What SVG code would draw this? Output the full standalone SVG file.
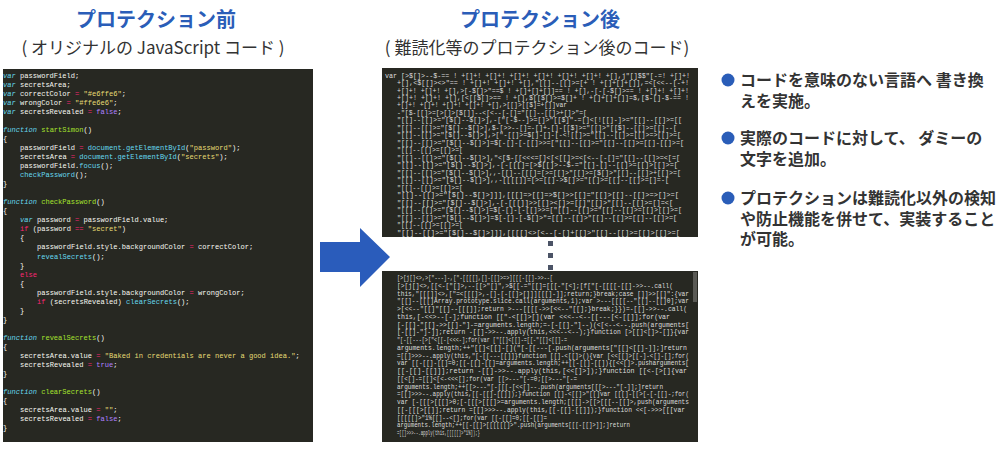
<svg xmlns="http://www.w3.org/2000/svg" width="1000" height="450" viewBox="0 0 1000 450">
<style>
.title{font-family:"Noto Sans CJK JP","Noto Sans",sans-serif;font-weight:bold;font-size:20px;fill:#2a5db8;text-anchor:middle}
.sub{font-family:"Noto Sans CJK JP","Noto Sans",sans-serif;font-size:17px;fill:#333;text-anchor:middle}
.bl{font-family:"Noto Sans CJK JP","Noto Sans",sans-serif;font-weight:bold;font-size:16px;fill:#333}
.panel{fill:#272822}
.code{font-family:"Liberation Mono","DejaVu Sans Mono",monospace;font-size:7.07px;fill:#f8f8f2}
.obf{font-family:"Liberation Mono","DejaVu Sans Mono",monospace;font-size:6.8px;fill:#dcdcdc}
.k{fill:#66d9ef;font-style:italic}
.o{fill:#f92672}
.s{fill:#e6db74}
.f{fill:#a6e22e}
.p{fill:#ae81ff}
.b{fill:#66d9ef}
.dot{fill:#4b5366}
</style>

<g id="title-before">
<text class="title" x="156" y="27">プロテクション前</text>
<text class="sub" x="153" y="54">( オリジナルの JavaScript コード )</text>
</g>
<g id="title-after">
<text class="title" x="540" y="27">プロテクション後</text>
<text class="sub" x="537" y="54">( 難読化等のプロテクション後のコード)</text>
</g>

<g id="code-before">
<rect class="panel" x="3" y="69" width="310" height="373"/>
<text class="code" x="3" y="77.5"><tspan class="k">var</tspan> passwordField;</text>
<text class="code" x="3" y="86.55"><tspan class="k">var</tspan> secretsArea;</text>
<text class="code" x="3" y="95.6"><tspan class="k">var</tspan> correctColor <tspan class="o">=</tspan> <tspan class="s">"#e6ffe6"</tspan>;</text>
<text class="code" x="3" y="104.65"><tspan class="k">var</tspan> wrongColor <tspan class="o">=</tspan> <tspan class="s">"#ffe6e6"</tspan>;</text>
<text class="code" x="3" y="113.7"><tspan class="k">var</tspan> secretsRevealed <tspan class="o">=</tspan> <tspan class="p">false</tspan>;</text>
<text class="code" x="3" y="131.8"><tspan class="k">function</tspan> <tspan class="f">startSimon</tspan>()</text>
<text class="code" x="3" y="140.85">{</text>
<text class="code" x="20" y="149.9">passwordField <tspan class="o">=</tspan> <tspan class="b">document.getElementById</tspan>(<tspan class="s">"password"</tspan>);</text>
<text class="code" x="20" y="158.95">secretsArea <tspan class="o">=</tspan> <tspan class="b">document.getElementById</tspan>(<tspan class="s">"secrets"</tspan>);</text>
<text class="code" x="20" y="168">passwordField.<tspan class="b">focus</tspan>();</text>
<text class="code" x="20" y="177.05"><tspan class="b">checkPassword</tspan>();</text>
<text class="code" x="3" y="186.1">}</text>
<text class="code" x="3" y="204.2"><tspan class="k">function</tspan> <tspan class="f">checkPassword</tspan>()</text>
<text class="code" x="3" y="213.25">{</text>
<text class="code" x="20" y="222.3"><tspan class="k">var</tspan> password <tspan class="o">=</tspan> passwordField.value;</text>
<text class="code" x="20" y="231.35"><tspan class="o">if</tspan> (password <tspan class="o">==</tspan> <tspan class="s">"secret"</tspan>)</text>
<text class="code" x="20" y="240.4">{</text>
<text class="code" x="37" y="249.45">passwordField.style.backgroundColor <tspan class="o">=</tspan> correctColor;</text>
<text class="code" x="37" y="258.5"><tspan class="b">revealSecrets</tspan>();</text>
<text class="code" x="20" y="267.55">}</text>
<text class="code" x="20" y="276.6"><tspan class="o">else</tspan></text>
<text class="code" x="20" y="285.65">{</text>
<text class="code" x="37" y="294.7">passwordField.style.backgroundColor <tspan class="o">=</tspan> wrongColor;</text>
<text class="code" x="37" y="303.75"><tspan class="o">if</tspan> (secretsRevealed) <tspan class="b">clearSecrets</tspan>();</text>
<text class="code" x="20" y="312.8">}</text>
<text class="code" x="3" y="321.85">}</text>
<text class="code" x="3" y="339.95"><tspan class="k">function</tspan> <tspan class="f">revealSecrets</tspan>()</text>
<text class="code" x="3" y="349">{</text>
<text class="code" x="20" y="358.05">secretsArea.value <tspan class="o">=</tspan> <tspan class="s">"Baked in credentials are never a good idea."</tspan>;</text>
<text class="code" x="20" y="367.1">secretsRevealed <tspan class="o">=</tspan> <tspan class="p">true</tspan>;</text>
<text class="code" x="3" y="376.15">}</text>
<text class="code" x="3" y="394.25"><tspan class="k">function</tspan> <tspan class="f">clearSecrets</tspan>()</text>
<text class="code" x="3" y="403.3">{</text>
<text class="code" x="20" y="412.35">secretsArea.value <tspan class="o">=</tspan> <tspan class="s">""</tspan>;</text>
<text class="code" x="20" y="421.4">secretsRevealed <tspan class="o">=</tspan> <tspan class="p">false</tspan>;</text>
<text class="code" x="3" y="430.45">}</text>
</g>

<g id="connectors">
<polygon points="320,242 360,242 360,228 390,257 360,287 360,272 320,272" fill="#2a5cbb"/>
</g>

<g id="code-after-top">
<rect class="panel" x="382" y="68" width="316" height="169"/>
<text class="obf" x="385" y="77.5" textLength="305" lengthAdjust="spacingAndGlyphs">var [&gt;$[]&gt;--$-== ! +[]+! +[]+! +[]+! +[]+! +[]+! +[]+! +[],j"[]$$"[-=! +[]+!</text>
<text class="obf" x="397" y="85" textLength="292" lengthAdjust="spacingAndGlyphs">+[],&lt;$[[]&gt;&lt;&gt;"== ! +[]+! +[]+! +[],"[[]--[[]&gt;=[+ ! +[]+[]+[]],=&lt;[&lt;&lt;--[-+!</text>
<text class="obf" x="397" y="92.5" textLength="292" lengthAdjust="spacingAndGlyphs">+[]+! +[]+! +[],&gt;[-$[]&gt;"==$ ! +[]+[]+[]]== ! +[],-[-[-$[]&gt;== ! +[]+! +[]+!</text>
<text class="obf" x="397" y="99.9" textLength="292" lengthAdjust="spacingAndGlyphs">+[]+! +[]+! +[],[&lt;[[$[]&gt;== ! +[],$[[$[]&gt;=$[]+ ! +[]+[]+[]]=$,[$-[]-$-== !</text>
<text class="obf" x="397" y="107.4" textLength="170" lengthAdjust="spacingAndGlyphs">+[]+! +[]+! +[]+! +[]+! +[],&gt;[[]&gt;[[$]=+[]]var</text>
<text class="obf" x="397" y="114.9" textLength="190" lengthAdjust="spacingAndGlyphs">-"[$-[[]&gt;=[&gt;[]&gt;[$[]]--&lt;[&lt;--[-[]="[[]--[[]&gt;+[]&gt;"=[</text>
<text class="obf" x="397" y="122.4" textLength="285" lengthAdjust="spacingAndGlyphs">"[[]--[[]&gt;="[$[]--$[]&gt;],-["[-$--]&gt;=[]&gt;"[[$]"-=[]&lt;[![[]-]&gt;="[[]--[[]&gt;=[[</text>
<text class="obf" x="397" y="129.9" textLength="280" lengthAdjust="spacingAndGlyphs">"[[]--[[]&gt;="[$[]--$[]&gt;],$-[&gt;&gt;--[]=-[]+-[]-[[$]&gt;="[[]&gt;"[[$]--[[]&gt;=[[]--[</text>
<text class="obf" x="397" y="137.3" textLength="284" lengthAdjust="spacingAndGlyphs">"[[]--[[]&gt;="[$[]--$[]&gt;],&gt;["-[[]&gt;=$[]-[]-[-&lt;![[]&gt;="[[]--[[]&gt;=[[]&gt;=&gt;[[]&gt;=[</text>
<text class="obf" x="397" y="144.8" textLength="287" lengthAdjust="spacingAndGlyphs">"[[]--[[]&gt;="[$[]--$[]&gt;]=$[-[]-[-[[]&gt;&gt;=["[[]--[[]&gt;="[[]--[[]&gt;=[[]-[[]&gt;=[</text>
<text class="obf" x="397" y="152.3" textLength="66" lengthAdjust="spacingAndGlyphs">"[[]--[[]&gt;=[[]&gt;=[</text>
<text class="obf" x="397" y="159.8" textLength="283" lengthAdjust="spacingAndGlyphs">"[[]--[[]&gt;="[$[]--$[]&gt;],"&lt;[$-[[&lt;&lt;&lt;=[]&lt;[&lt;[[]&gt;=&lt;[&lt;--[-[]="[[]--[[]&gt;=&lt;[=[</text>
<text class="obf" x="397" y="167.2" textLength="281" lengthAdjust="spacingAndGlyphs">"[[]--[[]&gt;="[$[]--$[]&gt;],-[-[[[]=[&gt;$[[]&gt;--$-="[[]-[]--[[]&gt;=[[]&gt;[[]&gt;=[</text>
<text class="obf" x="397" y="174.7" textLength="284" lengthAdjust="spacingAndGlyphs">"[[]--[[]&gt;="[$[]--$[]&gt;],,-[[]--[[[]=[&gt;=[[]&gt;"[[]&gt;=[$[]&gt;"[[]--[[]&gt;+[[]&gt;=[</text>
<text class="obf" x="397" y="182.2" textLength="272" lengthAdjust="spacingAndGlyphs">"[[]--[[]&gt;="[$[]--$[]&gt;],,-[[[[]]=[&gt;=[[]-&gt;$[]&gt;="[[]&gt;=[[]--[[]&gt;=[]=-[</text>
<text class="obf" x="397" y="189.7" textLength="66" lengthAdjust="spacingAndGlyphs">"[[]--[[]&gt;=[[]&gt;=[</text>
<text class="obf" x="397" y="197.1" textLength="282" lengthAdjust="spacingAndGlyphs">"[[]--[[]&gt;="[$[]--$[]&gt;]]],[[[]=&gt;[[]=&gt;$[]&gt;&gt;[[]="[[]&gt;[[]--[[]&gt;=&gt;[]&gt;=[</text>
<text class="obf" x="397" y="204.6" textLength="276" lengthAdjust="spacingAndGlyphs">"[[]--[[]&gt;="[$[]--$[]&gt;],-[-[[[]]&gt;&gt;[[]&gt;&lt;[]&gt;=[[]"[[]&gt;"[[]--[[]&gt;=[]=&lt;[</text>
<text class="obf" x="397" y="212.1" textLength="285" lengthAdjust="spacingAndGlyphs">"[[]--[[]&gt;="[$[]--$[]&gt;]=$[-[]-[-[[]&gt;&gt;=["[[]--[[]&gt;="[[]--[[]&gt;=[[]&gt;[[]&gt;=[</text>
<text class="obf" x="397" y="219.6" textLength="280" lengthAdjust="spacingAndGlyphs">"[[]--[[]&gt;="[$[]--$[]&gt;]=$[-[]-[-$[]&gt;"=[[]--[[]&gt;"[[]--[[]&gt;=[[]--[[]&gt;=[</text>
<text class="obf" x="397" y="227" textLength="66" lengthAdjust="spacingAndGlyphs">"[[]--[[]&gt;=[[]&gt;=[</text>
<text class="obf" x="397" y="234.5" textLength="283" lengthAdjust="spacingAndGlyphs">"[[]--[[]&gt;="[$[]--$[]&gt;]]],[[[[]&lt;&gt;[&lt;--[-[]+[[]&gt;"[[]--[[]&gt;=[[]&gt;[[]&gt;=[</text>
</g>

<g id="ellipsis">
<rect class="dot" x="548" y="241" width="5" height="5"/>
<rect class="dot" x="548" y="253" width="5" height="5"/>
<rect class="dot" x="548" y="265" width="5" height="5"/>
</g>

<g id="code-after-bottom">
<rect class="panel" x="382" y="271" width="316" height="171"/>
<rect x="693" y="272" width="4" height="30" fill="#5a5a55"/>
<text class="obf" x="397" y="280" textLength="156" lengthAdjust="spacingAndGlyphs">[&gt;[j[]&lt;&gt;,&gt;["---]-,["-[[[[],[]-[[]&gt;=&gt;][[[-[[]-&gt;&gt;--[</text>
<text class="obf" x="397" y="287.75" textLength="276" lengthAdjust="spacingAndGlyphs">[&gt;[j[]&lt;&gt;,[[&lt;-["[]&gt;,--[[&gt;"[]",&gt;$[[-="[[]=[[[-"[&lt;];[f["[-[[[[-[[]-&gt;&gt;--.call(</text>
<text class="obf" x="397" y="295.5" textLength="292" lengthAdjust="spacingAndGlyphs">this,"[[[]]&lt;&gt;,["=&lt;[[[]&gt;,-[]-[-[[]&gt;[]]][[[]-]];return;}break;case []]&gt;&gt;[[]":{var</text>
<text class="obf" x="397" y="303.25" textLength="292" lengthAdjust="spacingAndGlyphs">"[[]--[[[]Array.prototype.slice.call(arguments,1);var &gt;---[[[[--"[[]--[[]0];var</text>
<text class="obf" x="397" y="311" textLength="290" lengthAdjust="spacingAndGlyphs">&gt;[&lt;&lt;--"[[]"[[]--[[[]];return &gt;---[[[[-&gt;&gt;[&lt;&lt;--"[[];}break;}})=-[[]-&gt;&gt;--.call(</text>
<text class="obf" x="397" y="318.75" textLength="273" lengthAdjust="spacingAndGlyphs">this,[-&lt;&lt;&gt;--[-];function [["-&lt;[[]&gt;[](var &lt;&lt;&lt;--&lt;--[[---[&lt;-[[]];for(var</text>
<text class="obf" x="397" y="326.5" textLength="292" lengthAdjust="spacingAndGlyphs">[-[[]-"[[]-&gt;&gt;[[]-"]-=arguments.length;=-[-[[]-"]--)(&lt;[&lt;--&lt;--.push(arguments[</text>
<text class="obf" x="397" y="334.25" textLength="292" lengthAdjust="spacingAndGlyphs">[-[[]-"]-]];return -[[]-&gt;&gt;--.apply(this,&lt;&lt;&lt;--&lt;--);}function [&gt;[[]&lt;[]&gt;-[]}{var</text>
<text class="obf" x="397" y="342" textLength="170" lengthAdjust="spacingAndGlyphs">"[-[[---[&gt;["&lt;[[-[&lt;&lt;&lt;-];for(var ["[[]&lt;[[]-=[[-"[[]&lt;[[]-=</text>
<text class="obf" x="397" y="349.75" textLength="290" lengthAdjust="spacingAndGlyphs">arguments.length;++"[[]&lt;[[]-[]("[-[[---[.push(arguments["[[]&lt;[[]-]];]return</text>
<text class="obf" x="397" y="357.5" textLength="292" lengthAdjust="spacingAndGlyphs">=[[]&gt;&gt;&gt;--.apply(this,"[-[[---[[]]}function [[]-&lt;[[]&gt;(){var [&lt;&lt;[[]&gt;[[-]-&lt;[]-[];for(</text>
<text class="obf" x="397" y="365.25" textLength="292" lengthAdjust="spacingAndGlyphs">var [[-[[]-[[]=0;[[-[[]-[[]=arguments.length;++[[-[[]-[[]){[&lt;&lt;[]&gt;.pusharguments[</text>
<text class="obf" x="397" y="373" textLength="290" lengthAdjust="spacingAndGlyphs">[[-[[]-[[]]];return -[[]-&gt;&gt;--.apply(this,[&lt;&lt;[]&gt;]);}function [[&lt;-[&gt;[]{var</text>
<text class="obf" x="397" y="380.75" textLength="180" lengthAdjust="spacingAndGlyphs">[[&lt;[]-=[[]&lt;[&lt;-&lt;&lt;&lt;[];for(var [[&gt;---"[-=0;[[&gt;---"[-=</text>
<text class="obf" x="397" y="388.5" textLength="266" lengthAdjust="spacingAndGlyphs">arguments.length;++[[&gt;---"[-[[[-[&lt;&lt;[]--.push(arguments[[[&gt;---"[-]];]return</text>
<text class="obf" x="397" y="396.25" textLength="292" lengthAdjust="spacingAndGlyphs">=[[]&gt;&gt;&gt;--.apply(this,[[-[[]-[[]]);}function [[]-&lt;[[]&gt;"[[]var [[[]-[[&gt;[-[-[[]-;for(</text>
<text class="obf" x="397" y="404" textLength="292" lengthAdjust="spacingAndGlyphs">var [-[[[&gt;[[[]&gt;0;[-[[[&gt;[[[]&gt;=arguments.length;[[[]-&gt;[[&gt;[[[--[[]&gt;,push(arguments</text>
<text class="obf" x="397" y="411.75" textLength="288" lengthAdjust="spacingAndGlyphs">[[-[[[&gt;[[]];return =[[]&gt;&gt;&gt;--.apply(this,[[-[[]-[[]]);}function &lt;&lt;[-&gt;&gt;&gt;[[[var</text>
<text class="obf" x="397" y="419.5" textLength="150" lengthAdjust="spacingAndGlyphs">[[[[[]&gt;"1%[[]--&lt;[];for(var [[-[[]=0;[[-[[]=</text>
<text class="obf" x="397" y="427.25" textLength="233" lengthAdjust="spacingAndGlyphs">arguments.length;++[[-[[]&gt;[[[[[[]&gt;".push(arguments[[[-[[]&gt;]];]return</text>
<text class="obf" x="397" y="435" textLength="83" lengthAdjust="spacingAndGlyphs">=[[]&gt;&gt;&gt;--.apply(this,[[[[[]&gt;"1%]);}</text>
</g>

<g id="bullet-1">
<circle cx="728" cy="80" r="6.5" fill="#2a5db8"/>
<text class="bl" x="740" y="86">コードを意味のない言語へ 書き換<tspan x="740" dy="20.5">えを実施。</tspan></text>
</g>
<g id="bullet-2">
<circle cx="728" cy="138" r="6.5" fill="#2a5db8"/>
<text class="bl" x="740" y="144">実際のコードに対して、 ダミーの<tspan x="740" dy="20.5">文字を追加。</tspan></text>
</g>
<g id="bullet-3">
<circle cx="728" cy="198" r="6.5" fill="#2a5db8"/>
<text class="bl" x="740" y="204">プロテクションは難読化以外の検知<tspan x="740" dy="20.5">や防止機能を併せて、実装すること</tspan><tspan x="740" dy="20.5">が可能。</tspan></text>
</g>
</svg>
